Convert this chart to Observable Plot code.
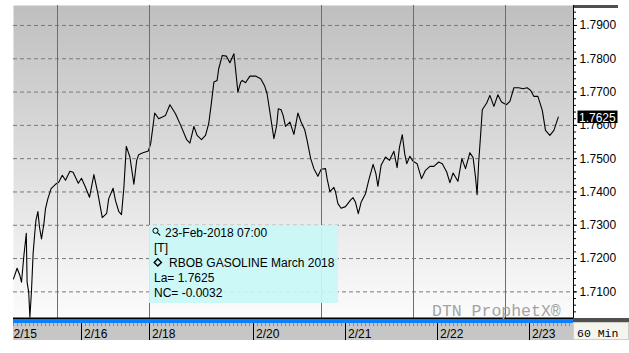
<!DOCTYPE html>
<html>
<head>
<meta charset="utf-8">
<script src="https://cdn.jsdelivr.net/npm/d3@7"></script>
<script src="https://cdn.jsdelivr.net/npm/@observablehq/plot@0.6"></script>
<style>
  html, body { margin: 0; padding: 0; background: #fff; }
  #chart { position: relative; width: 629px; height: 353px; overflow: hidden; }
  #chart svg { display: block; }
</style>
</head>
<body>
<div id="chart"></div>
<script>
// ---- data (hour index from the first bar, price) ----
const hours = [0,0.9,1.6,2.0,2.6,3.2,3.4,3.8,4.1,4.5,4.9,5.3,5.6,6.1,6.5,7.0,7.6,8.0,8.6,9.4,
  10.5,11.3,12.2,13.0,14.1,14.9,16.2,17.0,18.0,19.0,20.1,21.1,22.2,23.3,23.8,24.9,25.5,26.3,27.0,27.6,
  28.2,29.1,30.1,30.8,31.3,32.2,33.7,34.3,35.3,36.3,38.0,39.1,40.5,41.8,43.3,44.1,45.1,45.9,47.0,48.0,
  48.8,49.4,50.1,50.9,51.3,52.2,53.2,54.1,55.1,55.5,56.1,56.8,57.2,58.0,59.1,60.5,61.8,62.8,63.4,64.1,
  65.1,65.8,66.2,66.9,67.4,68.0,69.1,70.1,71.1,71.9,72.8,73.4,74.3,75.1,76.1,76.9,78.0,78.4,79.1,80.1,
  80.5,81.1,81.9,83.0,84.3,84.9,85.5,86.2,86.9,88.0,88.8,89.9,90.6,91.1,91.9,93.0,94.0,95.1,95.9,96.5,
  97.2,97.8,98.3,99.1,99.9,100.9,102.0,103.0,104.1,105.1,106.3,107.2,108.3,109.1,109.9,111.1,112.1,113.0,114.1,114.9,
  115.5,115.9,116.3,116.8,117.2,118.3,119.1,120.1,121.1,122.0,123.2,124.1,125.1,126.3,127.4,128.4,129.3,130.1,131.1,132.2,
  133.0,134.1,135.1,136.2];
const prices = [1.7139,1.7171,1.7149,1.7129,1.7209,1.7276,1.7129,1.7099,1.7024,1.7104,1.7214,1.7274,1.7314,1.7341,1.7294,1.7259,1.7305,1.7350,1.7380,1.7410,
  1.7423,1.7429,1.7450,1.7435,1.7462,1.7459,1.7426,1.7441,1.7414,1.7384,1.7452,1.7395,1.7323,1.7336,1.7380,1.7411,1.7374,1.7342,1.7332,1.7414,
  1.7537,1.7505,1.7423,1.7495,1.7512,1.7517,1.7523,1.7545,1.7637,1.7620,1.7630,1.7662,1.7635,1.7600,1.7557,1.7547,1.7597,1.7570,1.7557,1.7570,
  1.7605,1.7660,1.7730,1.7735,1.7770,1.7810,1.7808,1.7788,1.7815,1.7770,1.7700,1.7730,1.7735,1.7728,1.7748,1.7748,1.7740,1.7718,1.7695,1.7640,
  1.7560,1.7600,1.7650,1.7647,1.7630,1.7597,1.7610,1.7573,1.7637,1.7610,1.7587,1.7555,1.7500,1.7470,1.7447,1.7468,1.7470,1.7440,1.7401,1.7414,
  1.7400,1.7365,1.7351,1.7356,1.7376,1.7383,1.7369,1.7335,1.7369,1.7395,1.7435,1.7483,1.7455,1.7417,1.7480,1.7505,1.7495,1.7522,1.7473,1.7535,
  1.7572,1.7515,1.7485,1.7507,1.7492,1.7485,1.7440,1.7465,1.7477,1.7477,1.7490,1.7485,1.7460,1.7428,1.7457,1.7432,1.7500,1.7470,1.7518,1.7503,
  1.7445,1.7392,1.7490,1.7575,1.7647,1.7667,1.7690,1.7657,1.7692,1.7670,1.7662,1.7672,1.7713,1.7713,1.7710,1.7713,1.7705,1.7687,1.7687,1.7645,
  1.7585,1.7570,1.7585,1.7625];

const dateTickHours  = [0, 17, 34, 60, 83, 106, 129];
const dateTickLabels = ["2/15", "2/16", "2/18", "2/20", "2/21", "2/22", "2/23"];
const sessionHours   = [11, 34, 77, 100, 123];
const priceTicks     = [1.71, 1.72, 1.73, 1.74, 1.75, 1.76, 1.77, 1.78, 1.79];
const minorPriceTicks = d3.range(852, 898).map(i => i / 500);
const minorHourTicks  = d3.range(0, 140);
const lastPrice = 1.7625;
const tooltipLines = ["23-Feb-2018 07:00", "[T]", "RBOB GASOLINE March 2018", "La= 1.7625", "NC= -0.0032"];
const intervalLabel = "60 Min";
const watermark = "DTN ProphetX\u00AE";

const data = hours.map((h, i) => ({h, p: prices[i]}));

const W = 629, H = 353;
const mL = 13, mR = 56, mT = 5, mB = 35;
const SANS = "'Liberation Sans', Arial, sans-serif";
const MONO = "'Liberation Mono', 'DejaVu Sans Mono', monospace";

const plot = Plot.plot({
  width: W, height: H,
  marginLeft: mL, marginRight: mR, marginTop: mT, marginBottom: mB,
  x: {domain: [0, 140], axis: null},
  y: {domain: [1.702, 1.796], axis: null},
  style: {fontFamily: SANS, fontSize: "12px", background: "white", color: "#000"},
  marks: [
    Plot.frame({fill: "url(#bgGrad)", stroke: "none"}),
    Plot.ruleY(priceTicks, {stroke: "#7a7a7a", strokeDasharray: "4,3"}),
    Plot.line(data, {x: "h", y: "p", stroke: "#000", strokeWidth: 1.1}),
    Plot.ruleX(sessionHours, {stroke: "#e21de2"}),
    Plot.axisY({anchor: "right", ticks: minorPriceTicks, tickSize: 2, fill: "none", label: null}),
    Plot.axisY({anchor: "right", ticks: priceTicks, tickSize: 3, tickPadding: 3,
      tickFormat: d => d.toFixed(4), fontSize: 12, label: null}),
  ]
});

const svg = d3.select(plot);
svg.insert("defs", ":first-child").html(
  '<linearGradient id="bgGrad" x1="0" y1="0" x2="0" y2="1">' +
  '<stop offset="0" stop-color="#bfbfbf"/><stop offset="1" stop-color="#fcfcfc"/></linearGradient>');

const xs = plot.scale("x"), ys = plot.scale("y");
const x0 = mL, x1 = W - mR, yb = H - mB;

// bottom axis band and right-axis decorations
const deco = svg.append("g").attr("text-anchor", "start");
deco.append("rect").attr("x", x0).attr("y", yb + 5).attr("width", x1 - x0).attr("height", 17).attr("fill", "#c6c6c6");
deco.append("rect").attr("x", x0).attr("y", yb + 1).attr("width", x1 - x0).attr("height", 4).attr("fill", "#0a80ff");
deco.append("rect").attr("x", x0).attr("y", yb - 0.5).attr("width", x1 - x0).attr("height", 1.5).attr("fill", "#000");
deco.append("rect").attr("x", x1).attr("y", yb).attr("width", W - x1).attr("height", 4).attr("fill", "#505050");
deco.append("rect").attr("x", x1 + 0.5).attr("y", yb + 4.5).attr("width", W - x1 - 1).attr("height", 17).attr("fill", "#f5f5ef").attr("stroke", "#cfcfc8");
deco.append("rect").attr("x", x1).attr("y", mT).attr("width", 45).attr("height", 3).attr("fill", "#505050");
deco.append("line").attr("x1", x1 + 0.5).attr("x2", x1 + 0.5).attr("y1", mT).attr("y2", yb).attr("stroke", "#000");

// x axis built from the plot's x scale
const ax = svg.append("g").attr("text-anchor", "start");
minorHourTicks.forEach(h => {
  const px = Math.round(xs.apply(h)) + 0.5;
  ax.append("line").attr("x1", px).attr("x2", px).attr("y1", yb + 5).attr("y2", yb + 8).attr("stroke", "#8c8c8c");
});
dateTickHours.forEach((h, i) => {
  const px = Math.round(xs.apply(h)) + 0.5;
  if (i > 0) ax.append("line").attr("x1", px).attr("x2", px).attr("y1", yb + 5).attr("y2", yb + 22).attr("stroke", "#000");
  ax.append("text").attr("x", i > 0 ? px + 2.5 : px).attr("y", yb + 20).attr("fill", "#000")
    .attr("font-family", SANS).attr("font-size", 12).text(dateTickLabels[i]);
});

// watermark and interval label
deco.append("text").attr("x", 432).attr("y", yb - 2).attr("fill", "#a3a3a3")
  .attr("font-family", MONO).attr("font-size", 16.5).text(watermark);
deco.append("text").attr("x", x1 + 4).attr("y", yb + 18.5).attr("fill", "#000")
  .attr("font-family", MONO).attr("font-size", 11.5).text(intervalLabel);

// last-price marker on the right axis
const yl = ys.apply(lastPrice);
deco.append("rect").attr("x", x1 + 4.5).attr("y", yl - 6).attr("width", 40).attr("height", 12.5).attr("fill", "#000");
deco.append("text").attr("x", x1 + 6).attr("y", yl + 5).attr("fill", "#fff")
  .attr("font-family", SANS).attr("font-size", 12).text(lastPrice.toFixed(4));

// tooltip box
const tx = Math.round(xs.apply(sessionHours[1]));
const tip = svg.append("g").attr("text-anchor", "start");
tip.append("rect").attr("x", tx).attr("y", 225).attr("width", 189).attr("height", 78)
  .attr("fill", "#c8f8f8").attr("fill-opacity", 0.93);
const lx = tx + 5;
const base = 236.7;
tooltipLines.forEach((t, i) => {
  const xoff = i === 0 ? 11 : i === 2 ? 15 : 0;
  tip.append("text").attr("x", lx + xoff).attr("y", base + i * 15).attr("fill", "#000")
    .attr("font-family", SANS).attr("font-size", 12).text(t);
});
// magnifier icon
tip.append("circle").attr("cx", lx + 1.5).attr("cy", base - 6).attr("r", 2.6).attr("fill", "none").attr("stroke", "#000").attr("stroke-width", 1);
tip.append("line").attr("x1", lx + 3.4).attr("y1", base - 4.1).attr("x2", lx + 6.2).attr("y2", base - 1.3).attr("stroke", "#000").attr("stroke-width", 1.2);
// diamond icon
const dcy = base + 30 - 4.3, dcx = lx + 3.8;
tip.append("path").attr("d", `M${dcx},${dcy - 3.6}L${dcx + 3.6},${dcy}L${dcx},${dcy + 3.6}L${dcx - 3.6},${dcy}Z`)
  .attr("fill", "none").attr("stroke", "#000").attr("stroke-width", 1.4);

document.getElementById("chart").appendChild(plot);
</script>
</body>
</html>
